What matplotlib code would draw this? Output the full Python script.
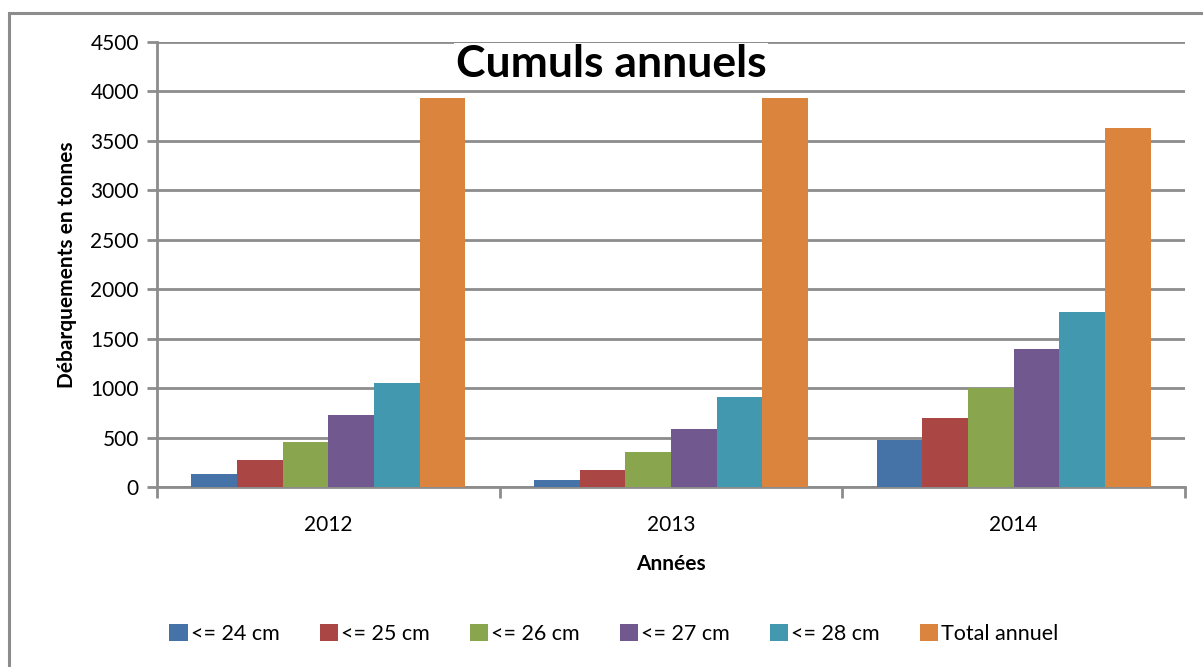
import numpy as np
import matplotlib.pyplot as plt
from matplotlib.patches import Rectangle

plt.rcParams['font.family'] = ['Lato', 'DejaVu Sans']

years = ['2012', '2013', '2014']
series_names = ['<= 24 cm', '<= 25 cm', '<= 26 cm', '<= 27 cm', '<= 28 cm', 'Total annuel']
le_24 = [130, 70, 475]
le_25 = [273, 172, 695]
le_26 = [452, 354, 998]
le_27 = [728, 590, 1392]
le_28 = [1048, 910, 1773]
total = [3933, 3933, 3635]
colors = ['#4572a7', '#aa4643', '#89a54e', '#71588f', '#4198af', '#db843d']

series = [le_24, le_25, le_26, le_27, le_28, total]

fig = plt.figure(figsize=(12.03, 6.67), dpi=100)
ax = fig.add_axes([157 / 1203, 1 - 487 / 667, (1185 - 157) / 1203, (487 - 42) / 667])

# outer chart border
fig.patches.append(Rectangle((9 / 1203, -0.05), 1.2, 1 - 13 / 667 + 0.05,
                             transform=fig.transFigure, fill=False,
                             edgecolor='#8c8c8c', linewidth=2.2))

x = np.arange(len(years))
n = len(series)
bw = 0.8 / n
for i, (vals, name, c) in enumerate(zip(series, series_names, colors)):
    ax.bar(x - 0.4 + bw * (i + 0.5), vals, width=bw, color=c, label=name,
           zorder=3)

ax.set_xlim(-0.5, 2.5)
ax.set_ylim(0, 4500)
ax.set_yticks(np.arange(0, 4501, 500))
ax.yaxis.grid(True, color='#8c8c8c', linewidth=2, zorder=0)
ax.set_axisbelow(True)

ax.set_xticks([-0.5, 0.5, 1.5, 2.5], minor=False)
ax.set_xticklabels([])
ax.set_xticks(x, minor=True)
ax.set_xticklabels(years, minor=True)
ax.tick_params(axis='x', which='minor', length=0, pad=20, labelsize=15)
ax.tick_params(axis='x', which='major', length=8, width=2, color='#8c8c8c')
ax.tick_params(axis='y', length=7, width=2, color='#8c8c8c', labelsize=15, pad=6)

for s in ['top', 'right']:
    ax.spines[s].set_visible(False)
for s in ['left', 'bottom']:
    ax.spines[s].set_color('#8c8c8c')
    ax.spines[s].set_linewidth(2)

ax.set_xlabel('Années', fontsize=15, fontweight='bold', labelpad=14)
ax.set_ylabel('Débarquements en tonnes', fontsize=15, fontweight='bold', labelpad=10)

fig.text(611 / 1203, 1 - 64 / 667, 'Cumuls annuels', fontsize=32,
         fontweight='bold', ha='center', va='center',
         bbox=dict(facecolor='white', edgecolor='none', pad=1), zorder=5)

fig.legend(loc='center', bbox_to_anchor=(614 / 1203, 1 - 634 / 667), ncol=6,
           frameon=False, fontsize=15.5, handlelength=0.85, handleheight=0.85,
           handletextpad=0.15, columnspacing=1.85)

fig.savefig('out.png', dpi=100)
